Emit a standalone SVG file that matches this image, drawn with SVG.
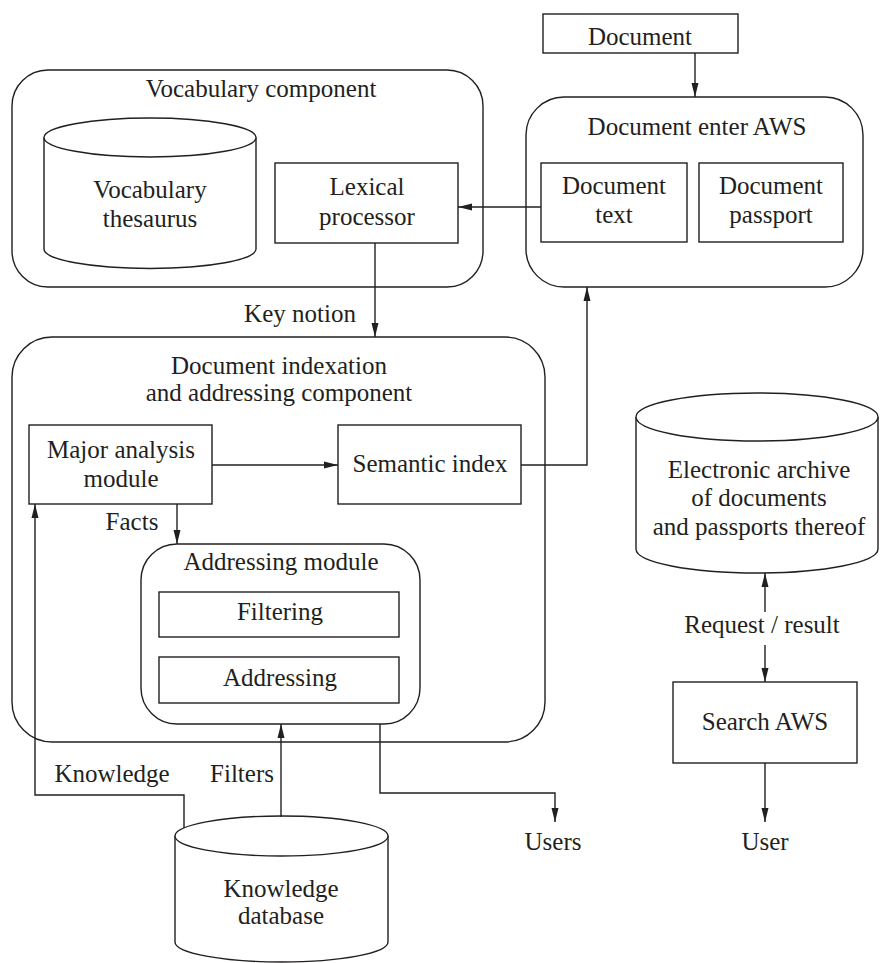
<svg xmlns="http://www.w3.org/2000/svg" width="880" height="963" viewBox="0 0 880 963" font-family="'Liberation Serif', 'Times New Roman', serif">
<defs>
<style>
.s{fill:none;stroke:#231f20;stroke-width:1.4}
.b{fill:#fff;stroke:#231f20;stroke-width:1.4}
.c{fill:none;stroke:#231f20;stroke-width:1.4}
text{font-family:"Liberation Serif","Times New Roman",serif;font-size:25px;fill:#231f20;text-anchor:middle}
</style>
<marker id="ah" viewBox="0 0 14 8" refX="14" refY="4" markerWidth="14" markerHeight="8" markerUnits="userSpaceOnUse" orient="auto">
<path d="M0,0.5 L14,4 L0,7.5 Z" fill="#231f20"/>
</marker>
</defs>
<rect width="880" height="963" fill="#fff"/>

<g id="vocabulary-component">
<rect class="b" x="12" y="70" width="471" height="217" rx="36"/>
<text x="261" y="97">Vocabulary component</text>
</g>
<g id="vocabulary-thesaurus">
<path class="b" d="M44,137.5 L44,249 A106,19.5 0 0 0 256,249 L256,137.5"/>
<ellipse class="b" cx="150" cy="137.5" rx="106" ry="19.5"/>
<text x="150" y="198">Vocabulary</text>
<text x="150" y="227">thesaurus</text>
</g>
<g id="lexical-processor">
<rect class="b" x="275" y="163" width="183" height="80"/>
<text x="367" y="195">Lexical</text>
<text x="367" y="225">processor</text>
</g>

<g id="document">
<rect class="b" x="543" y="14" width="195" height="39"/>
<text x="640" y="45">Document</text>
</g>
<g id="document-enter-aws">
<rect class="b" x="526" y="97" width="337" height="190" rx="38"/>
<text x="697" y="135">Document enter AWS</text>
</g>
<g id="document-text">
<rect class="b" x="541" y="163" width="146" height="79"/>
<text x="614" y="194">Document</text>
<text x="614" y="223">text</text>
</g>
<g id="document-passport">
<rect class="b" x="699" y="163" width="144" height="79"/>
<text x="771" y="194">Document</text>
<text x="771" y="223">passport</text>
</g>

<g id="indexation-component">
<rect class="b" x="12" y="337" width="533" height="405" rx="40"/>
<text x="279" y="374">Document indexation</text>
<text x="279" y="401">and addressing component</text>
</g>
<g id="major-analysis">
<rect class="b" x="29" y="425" width="183" height="79"/>
<text x="121" y="458">Major analysis</text>
<text x="121" y="487">module</text>
</g>
<g id="semantic-index">
<rect class="b" x="338" y="425" width="183" height="79"/>
<text x="430" y="472">Semantic index</text>
</g>
<g id="addressing-module">
<rect class="b" x="141" y="544" width="279" height="180" rx="36"/>
<text x="281" y="570">Addressing module</text>
</g>
<g id="filtering">
<rect class="b" x="159" y="592" width="240" height="45"/>
<text x="280" y="620">Filtering</text>
</g>
<g id="addressing">
<rect class="b" x="159" y="657" width="240" height="46"/>
<text x="280" y="686">Addressing</text>
</g>

<g id="knowledge-database">
<path class="b" d="M175,836 L175,942 A106.5,20 0 0 0 388,942 L388,836"/>
<ellipse class="b" cx="281.5" cy="836" rx="106.5" ry="20"/>
<text x="281" y="897">Knowledge</text>
<text x="281" y="924">database</text>
</g>

<g id="electronic-archive">
<path class="b" d="M636,417 L636,549 A121,24 0 0 0 878,549 L878,417"/>
<ellipse class="b" cx="757" cy="417" rx="121" ry="24"/>
<text x="759" y="478">Electronic archive</text>
<text x="759" y="506">of documents</text>
<text x="759" y="535">and passports thereof</text>
</g>
<g id="search-aws">
<rect class="b" x="673" y="682" width="184" height="81"/>
<text x="765" y="730">Search AWS</text>
</g>

<g id="connectors">
<path class="c" d="M695,53 L695,97" marker-end="url(#ah)"/>
<path class="c" d="M541,207 L458,207" marker-end="url(#ah)"/>
<path class="c" d="M375,243 L375,337" marker-end="url(#ah)"/>
<path class="c" d="M212,465 L338,465" marker-end="url(#ah)"/>
<path class="c" d="M521,465 L587,465 L587,287" marker-end="url(#ah)"/>
<path class="c" d="M177,504 L177,544" marker-end="url(#ah)"/>
<path class="c" d="M184,828 L184,795 L35,795 L35,504" marker-end="url(#ah)"/>
<path class="c" d="M281,817 L281,724" marker-end="url(#ah)"/>
<path class="c" d="M380,724 L380,793 L555,793 L555,822" marker-end="url(#ah)"/>
<path class="c" d="M765,612 L765,573" marker-end="url(#ah)"/>
<path class="c" d="M765,645 L765,682" marker-end="url(#ah)"/>
<path class="c" d="M765,763 L765,822" marker-end="url(#ah)"/>
</g>

<g id="labels">
<text x="300" y="322">Key notion</text>
<text x="132" y="530">Facts</text>
<text x="112" y="782">Knowledge</text>
<text x="242" y="782">Filters</text>
<text x="553" y="850">Users</text>
<text x="762" y="633">Request / result</text>
<text x="765" y="850">User</text>
</g>
</svg>
